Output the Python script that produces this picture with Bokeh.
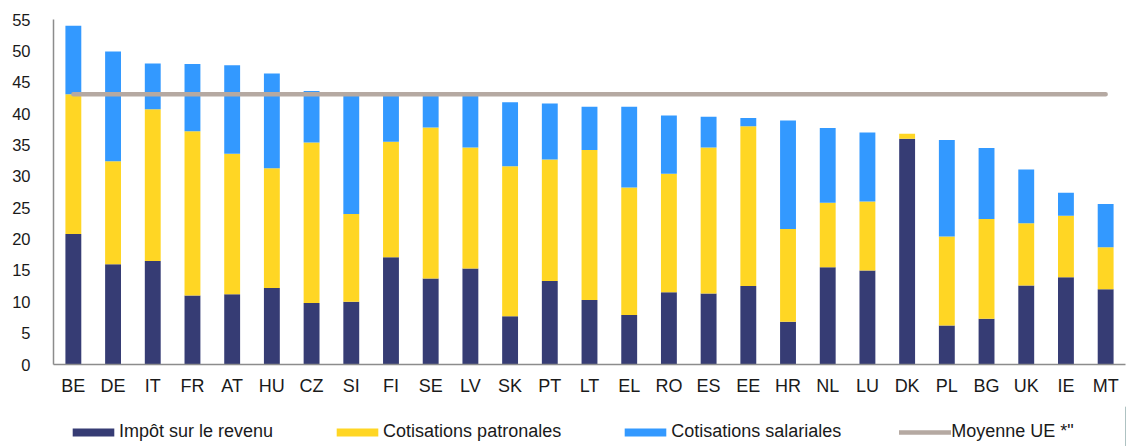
from bokeh.plotting import figure
from bokeh.models import ColumnDataSource, Legend, LegendItem, FactorRange, Range1d, FixedTicker
from bokeh.layouts import column
from bokeh.embed import file_html
from bokeh.resources import INLINE

countries = ["BE", "DE", "IT", "FR", "AT", "HU", "CZ", "SI", "FI", "SE", "LV", "SK", "PT", "LT",
             "EL", "RO", "ES", "EE", "HR", "NL", "LU", "DK", "PL", "BG", "UK", "IE", "MT"]
impot = [20.8, 16.0, 16.5, 11.0, 11.2, 12.2, 9.8, 10.0, 17.1, 13.7, 15.3, 7.7, 13.3, 10.3,
         7.9, 11.5, 11.3, 12.5, 6.8, 15.5, 15.0, 36.0, 6.2, 7.3, 12.6, 13.9, 12.0]
patronales = [22.3, 16.4, 24.2, 26.2, 22.4, 19.1, 25.6, 14.0, 18.4, 24.1, 19.3, 23.9, 19.4, 23.9,
              20.3, 18.9, 23.3, 25.5, 14.8, 10.3, 11.0, 0.8, 14.2, 15.9, 9.9, 9.8, 6.7]
salariales = [10.9, 17.5, 7.3, 10.7, 14.1, 15.1, 8.2, 18.8, 7.3, 5.0, 8.2, 10.2, 8.9, 6.9,
              12.9, 9.3, 4.9, 1.3, 17.3, 11.9, 11.0, 0.0, 15.4, 11.3, 8.6, 3.7, 6.9]
moyenne_ue = 43.1
y_ticks = [0, 5, 10, 15, 20, 25, 30, 35, 40, 45, 50, 55]

series = ["impot", "patronales", "salariales"]
labels = ["Impôt sur le revenu", "Cotisations patronales", "Cotisations salariales", "Moyenne UE *\""]
colors = ["#363C74", "#FFD624", "#3399FF"]
line_color = "#B5A9A2"

source = ColumnDataSource(dict(country=countries, impot=impot, patronales=patronales,
                               salariales=salariales, moy=[moyenne_ue] * len(countries)))

FONT = "Liberation Sans"

p = figure(x_range=FactorRange(*countries, range_padding=0), y_range=Range1d(0, 55),
           frame_width=1072, frame_height=345, output_backend="svg", toolbar_location=None,
           min_border_left=53, min_border_right=1, min_border_top=19, min_border_bottom=42)

rs = p.vbar_stack(series, x="country", width=0.4, color=colors, line_color=None, source=source)
ln = p.line(x="country", y="moy", source=source, line_color=line_color, line_width=4.5,
            line_cap="round")

p.outline_line_color = None
p.xgrid.grid_line_color = None
p.ygrid.grid_line_color = None

for ax in (p.xaxis[0], p.yaxis[0]):
    ax.axis_line_color = "#8C8C8C"
    ax.axis_line_width = 1.5
    ax.major_tick_line_color = None
    ax.minor_tick_line_color = None
    ax.major_label_text_font = FONT
    ax.major_label_text_color = "#1A1A1A"

p.yaxis[0].major_label_text_font_size = "16.5px"
p.xaxis[0].major_label_text_font_size = "18px"
p.yaxis[0].ticker = FixedTicker(ticks=y_ticks)
p.yaxis[0].major_label_standoff = 17
p.xaxis[0].major_label_standoff = 5

# Legend strip below the chart (separate figure so the legend is never clipped)
leg = figure(width=1126, height=40, x_range=Range1d(0, 1), y_range=Range1d(0, 1),
             output_backend="svg", toolbar_location=None,
             x_axis_location=None, y_axis_location=None,
             min_border_left=0, min_border_right=0, min_border_top=0, min_border_bottom=0)
leg.outline_line_color = None
leg.xgrid.grid_line_color = None
leg.ygrid.grid_line_color = None

# keys for the legend only: one point placed outside the visible range
key_src = ColumnDataSource(dict(x=[5.0], y=[5.0]))
dummies = [leg.vbar(x="x", top="y", width=0.1, color=c, line_color=None, source=key_src) for c in colors]
dummies.append(leg.line(x="x", y="y", source=key_src, line_color=line_color, line_width=4.5,
                        line_cap="round"))

items = [LegendItem(label=labels[i], renderers=[dummies[i]]) for i in range(4)]
legend = Legend(items=items, orientation="horizontal", location=(14, 4),
                glyph_width=52, glyph_height=10, label_standoff=0, spacing=58,
                label_text_font=FONT, label_text_font_size="18px", label_text_color="#1A1A1A",
                border_line_color=None, background_fill_alpha=0, padding=0, margin=0)
leg.add_layout(legend, "center")

open("out.html", "w").write(file_html(column(p, leg, spacing=0), INLINE))
